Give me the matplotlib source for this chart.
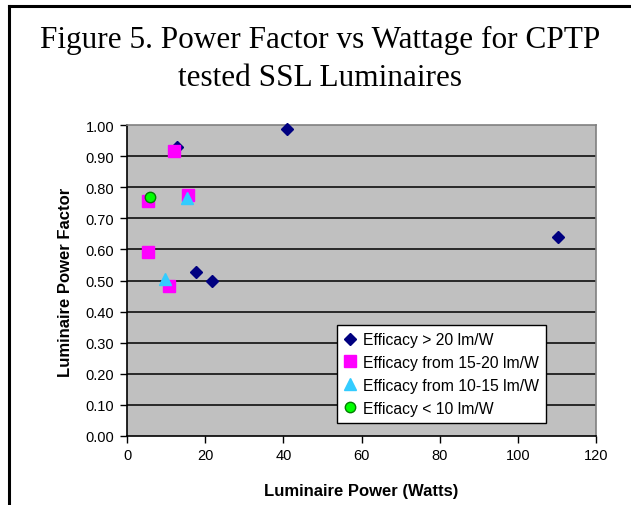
import matplotlib
matplotlib.use("Agg")
import matplotlib.pyplot as plt
from matplotlib.lines import Line2D

# Data
x_gt20 = [41.0, 12.9, 17.6, 21.7, 110.2]
y_gt20 = [0.987, 0.928, 0.528, 0.499, 0.641]
x_15_20 = [12.1, 5.5, 15.6, 5.5, 10.8]
y_15_20 = [0.917, 0.757, 0.775, 0.591, 0.481]
x_10_15 = [15.3, 9.7]
y_10_15 = [0.765, 0.505]
x_lt10 = [6.0]
y_lt10 = [0.767]
labels = ["Efficacy > 20 lm/W", "Efficacy from 15-20 lm/W",
          "Efficacy from 10-15 lm/W", "Efficacy < 10 lm/W"]
xticks = [0, 20, 40, 60, 80, 100, 120]
yticks = [0.0, 0.1, 0.2, 0.3, 0.4, 0.5, 0.6, 0.7, 0.8, 0.9, 1.0]

W, H = 631, 506
fig = plt.figure(figsize=(W / 100, H / 100), dpi=100)
fig.patch.set_facecolor("white")

# frame (left and top only visible)
fig.add_artist(Line2D([9 / W, 9 / W], [0, 1 - 7 / H], transform=fig.transFigure,
                      color="black", lw=2.2))
fig.add_artist(Line2D([9 / W, 1], [1 - 7 / H, 1 - 7 / H], transform=fig.transFigure,
                      color="black", lw=2.2))

fig.text(320 / W, 1 - 48 / H, "Figure 5. Power Factor vs Wattage for CPTP",
         ha="center", va="baseline", family="Liberation Serif", fontsize=22.5)
fig.text(320 / W, 1 - 86 / H, "tested SSL Luminaires",
         ha="center", va="baseline", family="Liberation Serif", fontsize=22.5)

ax = fig.add_axes([127 / W, (H - 437) / H, (596 - 127) / W, (437 - 126) / H])
ax.set_facecolor("#C0C0C0")
ax.set_xlim(0, 120)
ax.set_ylim(0, 1.0)
ax.set_xticks(xticks)
ax.set_yticks(yticks)
ax.set_yticklabels([f"{v:.2f}" for v in yticks])
for t in ax.get_xticklabels() + ax.get_yticklabels():
    t.set_family("Liberation Sans")
    t.set_fontsize(10.5)
ax.tick_params(direction="out", length=5, width=1, color="black", pad=4)

for v in yticks[1:-1]:
    ax.axhline(v, color="black", lw=1.1, zorder=1)

for s in ["top", "right"]:
    ax.spines[s].set_color("#808080")
    ax.spines[s].set_linewidth(1.2)
for s in ["left", "bottom"]:
    ax.spines[s].set_color("black")
    ax.spines[s].set_linewidth(1.2)

ax.plot(x_gt20, y_gt20, "D", color="#000080", ms=6.5, ls="none", label=labels[0], zorder=3,
        clip_on=False)
ax.plot(x_15_20, y_15_20, "s", color="#FF00FF", ms=8, ls="none", label=labels[1], zorder=4)
ax.plot(x_10_15, y_10_15, "^", color="#33CCFF", ms=8, ls="none", label=labels[2], zorder=5)
ax.plot(x_lt10, y_lt10, "o", markerfacecolor="#00FF00", markeredgecolor="#008000",
        ms=7.5, ls="none", label=labels[3], zorder=6)

fig.text(361.5 / W, 1 - 496.5 / H, "Luminaire Power (Watts)", ha="center", va="baseline",
         family="Liberation Sans", fontsize=12, fontweight="bold")
fig.text(66 / W, 1 - 282 / H, "Luminaire Power Factor", ha="center", va="center",
         rotation=90, family="Liberation Sans", fontsize=12, fontweight="bold")

leg = ax.legend(loc="upper left", bbox_to_anchor=((337 - 127) / (596 - 127), (437 - 326) / (437 - 126)),
                frameon=True, fancybox=False, framealpha=1, edgecolor="black",
                prop={"family": "Liberation Sans", "size": 11.3},
                handlelength=0.8, handletextpad=0.4, borderpad=0.45, labelspacing=0.5,
                borderaxespad=0)
leg.get_frame().set_linewidth(1.0)

fig.savefig("out.png", dpi=100)
